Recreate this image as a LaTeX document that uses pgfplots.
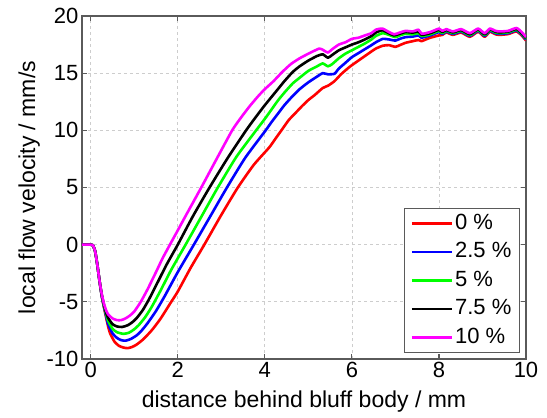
\documentclass[border=0pt]{standalone}
\usepackage{fontspec}
\setmainfont{Liberation Sans}
\usepackage{pgfplots}
\pgfplotsset{compat=1.18}
\definecolor{axgray}{RGB}{90,90,90}
\definecolor{gridgray}{RGB}{205,205,205}
\definecolor{mred}{RGB}{255,0,0}
\definecolor{mblue}{RGB}{0,0,255}
\definecolor{mgreen}{RGB}{0,255,0}
\definecolor{mmag}{RGB}{255,0,255}
\begin{document}
\begin{tikzpicture}
\begin{axis}[name=ax, width=444pt, height=343pt, scale only axis,
  xmin=-0.2, xmax=10, ymin=-10, ymax=20,
  xtick={0,2,4,6,8,10}, ytick={-10,-5,0,5,10,15,20},
  tick pos=both, tick align=inside, major tick length=5pt,
  grid=major,
  major grid style={color=gridgray, line width=0.7pt, dash pattern=on 3pt off 3pt},
  axis line style={color=axgray, line width=1.3pt},
  every tick/.style={color=axgray, line width=1.2pt},
  /pgf/number format/assume math mode=true,
  tick label style={font=\fontsize{22}{26}\selectfont, color=black},
  label style={font=\fontsize{23}{27}\selectfont},
  xlabel={distance behind bluff body / mm},
  xlabel style={yshift=-6pt},
  ylabel={local flow velocity / mm/s},
  legend cell align=left,
  legend image code/.code={\draw[#1, line width=2.6pt] (0pt,0pt) -- (40pt,0pt);},
  legend style={at={(axis description cs:1,0)}, anchor=south east, xshift=-6pt, yshift=6pt,
    draw=axgray, line width=1.2pt, font=\fontsize{22}{26}\selectfont,
    inner xsep=6pt, inner ysep=4pt, row sep=6.5pt,
    nodes={inner sep=2pt, text height=15pt, text depth=3pt},
    /tikz/every even column/.append style={column sep=1pt}},
  every axis plot/.append style={line width=2.6pt, line join=round, smooth, tension=0.35},
]
\addplot[mred] coordinates {(-0.2,0)(0.0,0)(0.05,-0.05)(0.1,-0.55)(0.15,-1.7)(0.2,-3.1)(0.25,-4.4)(0.3,-5.4)
(0.35,-6.3)(0.4,-7.15)(0.45,-7.8)(0.55,-8.5)(0.65,-8.85)(0.75,-9.0)(0.85,-9.05)(0.95,-8.95)(1.05,-8.75)(1.2,-8.3)(1.4,-7.5)(1.6,-6.5)(1.85,-5.0)(2.0,-4.1)(2.3,-2.0)(2.61,0)(3.0,2.6)(3.38,5.0)(3.75,7.0)(4.1,8.5)(4.25,9.3)(4.4,10.1)(4.55,10.9)(4.7,11.5)(4.85,12.1)(5.0,12.65)(5.15,13.1)(5.33,13.7)(5.45,13.9)(5.6,14.3)(5.75,14.9)(5.9,15.4)(6.0,15.7)(6.15,16.1)(6.3,16.5)(6.45,16.9)(6.55,17.15)(6.71,17.4)(6.85,17.45)(7.0,17.3)(7.1,17.45)(7.23,17.65)(7.4,17.8)(7.53,17.9)(7.6,17.8)(7.7,17.95)(7.8,18.1)(7.9,18.2)(8.0,18.3)(8.08,18.35)(8.17,18.56)(8.32,18.35)(8.51,18.55)(8.71,18.18)(8.9,18.62)(9.05,18.18)(9.17,18.62)(9.3,18.4)(9.4,18.35)(9.59,18.42)(9.78,18.65)(9.9,18.3)(10.0,17.85)};
\addlegendentry{0 \%}
\addplot[mblue] coordinates {(-0.2,0)(0.0,0)(0.05,-0.05)(0.1,-0.55)(0.15,-1.7)(0.2,-3.1)(0.25,-4.4)(0.3,-5.35)
(0.35,-6.15)(0.4,-6.95)(0.5,-7.75)(0.6,-8.15)(0.7,-8.35)(0.8,-8.4)(0.92,-8.25)(1.05,-7.95)(1.15,-7.6)(1.3,-6.9)(1.5,-5.8)(1.7,-4.5)(2.0,-2.4)(2.37,0)(2.75,2.5)(3.13,5.0)(3.55,7.6)(4.02,10.0)(4.15,10.7)(4.3,11.45)(4.45,12.2)(4.64,13.0)(4.8,13.6)(5.0,14.2)(5.2,14.7)(5.33,15.0)(5.45,14.9)(5.6,14.95)(5.7,15.4)(5.85,15.9)(6.0,16.4)(6.15,16.75)(6.3,17.1)(6.45,17.45)(6.55,17.7)(6.71,18.0)(6.85,17.95)(7.0,17.85)(7.1,18.0)(7.23,18.15)(7.4,18.2)(7.53,18.3)(7.6,18.1)(7.7,18.2)(7.8,18.3)(7.9,18.45)(8.0,18.6)(8.08,18.42)(8.17,18.64)(8.32,18.43)(8.51,18.63)(8.71,18.26)(8.9,18.7)(9.05,18.26)(9.17,18.7)(9.3,18.48)(9.4,18.43)(9.59,18.5)(9.78,18.73)(9.9,18.38)(10.0,17.93)};
\addlegendentry{2.5 \%}
\addplot[mgreen] coordinates {(-0.2,0)(0.0,0)(0.05,-0.05)(0.1,-0.55)(0.15,-1.7)(0.2,-3.1)(0.25,-4.35)(0.3,-5.3)
(0.35,-6.0)(0.4,-6.65)(0.5,-7.35)(0.6,-7.65)(0.75,-7.8)(0.88,-7.7)(1.0,-7.4)(1.1,-7.05)(1.25,-6.35)(1.4,-5.45)(1.6,-4.05)(1.85,-2.2)(2.18,0)(2.55,2.5)(2.92,5.0)(3.35,7.7)(3.8,10.0)(4.0,11.0)(4.15,11.8)(4.3,12.6)(4.45,13.3)(4.64,14.1)(4.8,14.6)(5.0,15.2)(5.2,15.6)(5.33,15.85)(5.45,15.6)(5.55,15.8)(5.7,16.3)(5.85,16.7)(6.0,17.0)(6.15,17.3)(6.3,17.6)(6.45,17.95)(6.55,18.25)(6.71,18.5)(6.85,18.35)(7.0,18.15)(7.1,18.3)(7.23,18.45)(7.4,18.4)(7.53,18.5)(7.6,18.25)(7.7,18.3)(7.8,18.4)(7.9,18.55)(8.0,18.7)(8.08,18.5)(8.17,18.71)(8.32,18.5)(8.51,18.7)(8.71,18.33)(8.9,18.77)(9.05,18.33)(9.17,18.77)(9.3,18.55)(9.4,18.5)(9.59,18.57)(9.78,18.8)(9.9,18.45)(10.0,18.0)};
\addlegendentry{5 \%}
\addplot[black] coordinates {(-0.2,0)(0.0,0)(0.05,-0.05)(0.1,-0.55)(0.15,-1.7)(0.2,-3.1)(0.25,-4.3)(0.3,-5.2)
(0.35,-5.9)(0.4,-6.4)(0.5,-6.95)(0.6,-7.15)(0.72,-7.2)(0.85,-7.05)(0.95,-6.8)(1.05,-6.45)(1.2,-5.7)(1.35,-4.7)(1.55,-3.2)(1.75,-1.7)(2.0,0)(2.35,2.5)(2.73,5.0)(3.15,7.6)(3.57,10.0)(3.8,11.2)(4.0,12.2)(4.15,12.9)(4.3,13.6)(4.45,14.3)(4.64,15.1)(4.8,15.6)(5.0,16.1)(5.2,16.5)(5.33,16.65)(5.45,16.35)(5.55,16.6)(5.7,17.0)(5.85,17.25)(6.0,17.5)(6.15,17.7)(6.3,17.95)(6.45,18.25)(6.55,18.55)(6.7,18.75)(6.85,18.5)(6.97,18.3)(7.1,18.45)(7.23,18.6)(7.4,18.55)(7.53,18.65)(7.6,18.35)(7.7,18.4)(7.8,18.5)(7.9,18.65)(8.0,18.8)(8.08,18.6)(8.17,18.78)(8.32,18.57)(8.51,18.77)(8.71,18.4)(8.9,18.84)(9.05,18.4)(9.17,18.84)(9.3,18.62)(9.4,18.57)(9.59,18.64)(9.78,18.87)(9.9,18.5)(10.0,18.07)};
\addlegendentry{7.5 \%}
\addplot[mmag] coordinates {(-0.2,0)(0.0,0)(0.05,-0.05)(0.1,-0.55)(0.15,-1.7)(0.2,-3.1)(0.25,-4.25)(0.3,-5.1)
(0.35,-5.7)(0.4,-6.1)(0.5,-6.45)(0.6,-6.6)(0.7,-6.6)(0.8,-6.45)(0.9,-6.2)(1.0,-5.85)(1.15,-5.0)(1.3,-3.95)(1.5,-2.4)(1.65,-1.2)(1.82,0)(2.0,1.25)(2.2,2.65)(2.54,5.0)(2.9,7.55)(3.25,10.0)(3.45,11.1)(3.65,12.1)(3.85,13.0)(4.0,13.6)(4.2,14.3)(4.4,15.1)(4.6,15.8)(4.8,16.3)(5.0,16.7)(5.25,17.15)(5.35,17.0)(5.45,16.8)(5.55,17.1)(5.7,17.5)(5.85,17.7)(6.0,18.0)(6.15,18.1)(6.3,18.3)(6.45,18.5)(6.55,18.8)(6.7,18.9)(6.85,18.6)(6.97,18.4)(7.1,18.55)(7.23,18.7)(7.4,18.65)(7.53,18.8)(7.6,18.45)(7.7,18.5)(7.8,18.6)(7.9,18.75)(8.0,18.9)(8.08,18.7)(8.17,18.85)(8.32,18.65)(8.51,18.85)(8.71,18.5)(8.9,18.9)(9.05,18.5)(9.17,18.9)(9.3,18.7)(9.4,18.65)(9.59,18.7)(9.78,18.95)(9.9,18.6)(10.0,18.15)};
\addlegendentry{10 \%}
\end{axis}
\pgfresetboundingbox
\path[use as bounding box] ([xshift=-82pt,yshift=-59pt]ax.south west) rectangle ([xshift=21pt,yshift=16pt]ax.north east);
\end{tikzpicture}
\end{document}
